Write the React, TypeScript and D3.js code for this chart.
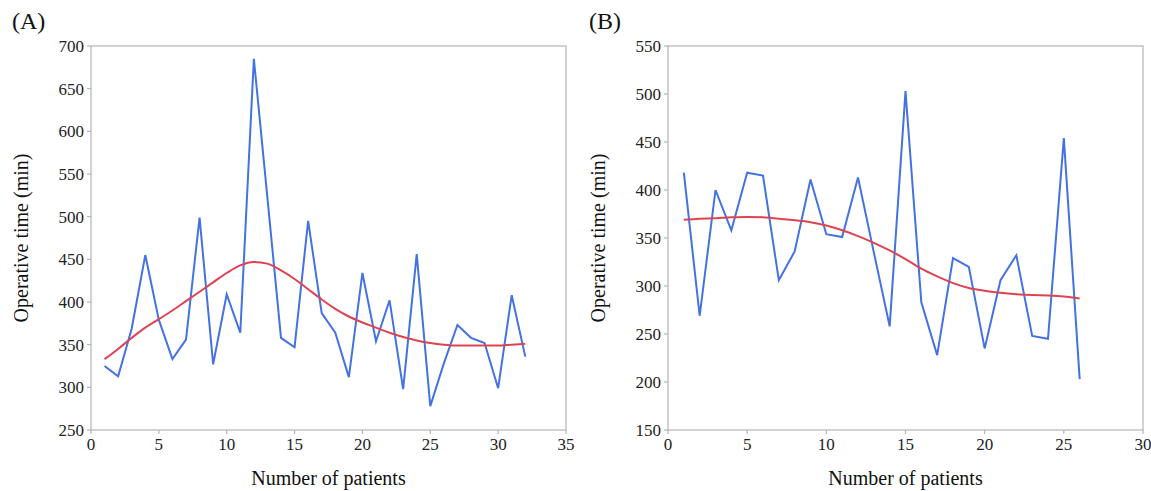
import * as d3 from "d3";
import React from "react";

// Panel A: 32 patients
const patientsA = d3.range(1, 33);
const timeA = [
  325, 313, 369, 455, 379, 333, 356, 499, 327, 409, 364, 685, 522, 358, 347, 495,
  387, 364, 312, 434, 354, 402, 298, 456, 278, 328, 373, 358, 352, 299, 408, 336,
];
const trendA = [
  333, 345, 358, 370, 380, 390, 401, 412, 423, 434, 443, 447, 445, 437, 427, 415,
  403, 392, 383, 376, 370, 364, 359, 355, 352, 350, 349, 349, 349, 349, 350, 351,
];
const xTicksA = [0, 5, 10, 15, 20, 25, 30, 35];
const yTicksA = [250, 300, 350, 400, 450, 500, 550, 600, 650, 700];

// Panel B: 26 patients
const patientsB = d3.range(1, 27);
const timeB = [
  418, 269, 400, 358, 418, 415, 306, 336, 411, 354, 351, 413, 335, 258, 503, 283,
  228, 329, 320, 235, 306, 332, 248, 245, 454, 203,
];
const trendB = [
  369, 370, 370.5, 371.5, 372, 371.5, 370, 368.5, 366.5, 363, 358, 352, 345, 337, 328, 318,
  310, 303, 298, 295, 293, 291.5, 290.5, 290, 289, 287,
];
const xTicksB = [0, 5, 10, 15, 20, 25, 30];
const yTicksB = [150, 200, 250, 300, 350, 400, 450, 500, 550];

const font = "'Liberation Serif', 'Times New Roman', serif";
const blue = "#4472e2";
const red = "#dc4452";
const frame = "#b4b4b4";

type PanelProps = {
  label: string;
  left: number;
  right: number;
  xs: number[];
  ys: number[];
  trend: number[];
  xTicks: number[];
  yTicks: number[];
};

const top = 46;
const bottom = 430;

function Panel({ label, left, right, xs, ys, trend, xTicks, yTicks }: PanelProps) {
  const x = d3
    .scaleLinear()
    .domain([xTicks[0], xTicks[xTicks.length - 1]])
    .range([left, right]);
  const y = d3
    .scaleLinear()
    .domain([yTicks[0], yTicks[yTicks.length - 1]])
    .range([bottom, top]);

  const raw = d3
    .line<number>()
    .x((_d, i) => x(xs[i]))
    .y((d) => y(d))(ys);

  // fitted curve drawn smooth through the trend values
  const fit = d3
    .line<number>()
    .x((_d, i) => x(xs[i]))
    .y((d) => y(d))
    .curve(d3.curveMonotoneX)(trend);

  return (
    <g>
      <text x={left - 79} y={29} fontFamily={font} fontSize={24} fill="#111">
        {label}
      </text>
      <rect
        x={left}
        y={top}
        width={right - left}
        height={bottom - top}
        fill="none"
        stroke={frame}
        strokeWidth={1.2}
      />
      {yTicks.map((t) => (
        <g key={"y" + t}>
          <line x1={left - 4} x2={left} y1={y(t)} y2={y(t)} stroke={frame} strokeWidth={1.2} />
          <text
            x={left - 7}
            y={y(t)}
            dy="0.35em"
            textAnchor="end"
            fontFamily={font}
            fontSize={17}
            fill="#222"
          >
            {t}
          </text>
        </g>
      ))}
      {xTicks.map((t) => (
        <g key={"x" + t}>
          <line x1={x(t)} x2={x(t)} y1={bottom} y2={bottom + 4} stroke={frame} strokeWidth={1.2} />
          <text
            x={x(t)}
            y={bottom + 20}
            textAnchor="middle"
            fontFamily={font}
            fontSize={17}
            fill="#222"
          >
            {t}
          </text>
        </g>
      ))}
      <text
        transform={`translate(${left - 63},${(top + bottom) / 2}) rotate(-90)`}
        textAnchor="middle"
        fontFamily={font}
        fontSize={20}
        fill="#111"
      >
        Operative time (min)
      </text>
      <text
        x={(left + right) / 2}
        y={485}
        textAnchor="middle"
        fontFamily={font}
        fontSize={20}
        fill="#111"
      >
        Number of patients
      </text>
      <path d={raw ?? ""} fill="none" stroke={blue} strokeWidth={2} strokeLinejoin="miter" />
      <path d={fit ?? ""} fill="none" stroke={red} strokeWidth={2} />
    </g>
  );
}

export default function App() {
  return (
    <svg
      width={1151}
      height={491}
      style={{ position: "absolute", left: 0, top: 0, background: "#fff" }}
    >
      <Panel
        label="(A)"
        left={91}
        right={566}
        xs={patientsA}
        ys={timeA}
        trend={trendA}
        xTicks={xTicksA}
        yTicks={yTicksA}
      />
      <Panel
        label="(B)"
        left={668}
        right={1143}
        xs={patientsB}
        ys={timeB}
        trend={trendB}
        xTicks={xTicksB}
        yTicks={yTicksB}
      />
    </svg>
  );
}
